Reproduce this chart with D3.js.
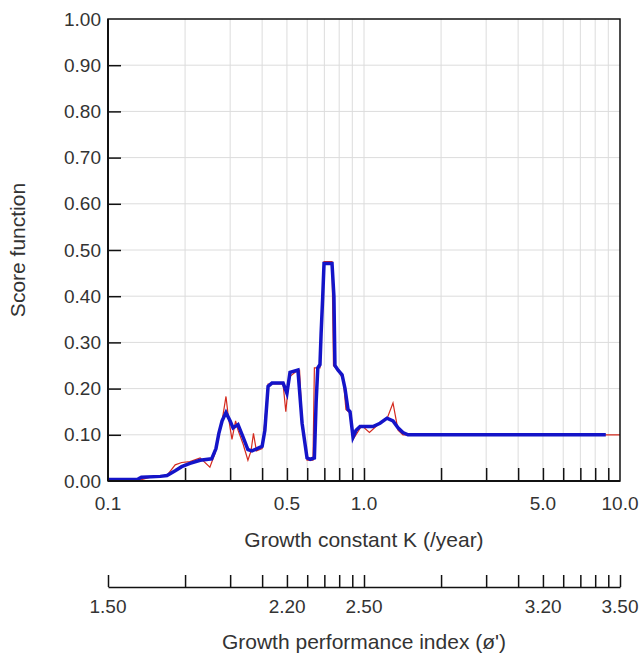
<!DOCTYPE html>
<html>
<head>
<meta charset="utf-8">
<script src="https://cdn.jsdelivr.net/npm/d3@7"></script>
<style>
  body { margin: 0; background: #fff; }
  svg text { font-family: "Liberation Sans", Arial, sans-serif; fill: #333; }
</style>
</head>
<body>
<div id="chart"></div>
<script>
// growth constant K values and score, thick blue (smoothed) series
var blueK = [0.100, 0.131, 0.135, 0.160, 0.170, 0.183, 0.194, 0.209, 0.229, 0.254, 0.264, 0.271, 0.279, 0.289,
  0.300, 0.308, 0.322, 0.337, 0.352, 0.365, 0.386, 0.400, 0.410, 0.422, 0.437, 0.483, 0.500, 0.514, 0.552,
  0.573, 0.599, 0.616, 0.640, 0.650, 0.660, 0.673, 0.680, 0.690, 0.698, 0.750, 0.763, 0.770, 0.792, 0.821,
  0.843, 0.866, 0.882, 0.906, 0.931, 0.965, 1.018, 1.084, 1.155, 1.230, 1.298, 1.358, 1.420, 1.485, 8.8];
var blueScore = [0.003, 0.004, 0.008, 0.010, 0.012, 0.022, 0.031, 0.038, 0.045, 0.048, 0.070, 0.103, 0.130, 0.148,
  0.130, 0.115, 0.122, 0.095, 0.068, 0.065, 0.071, 0.075, 0.110, 0.205, 0.212, 0.212, 0.190, 0.235, 0.240,
  0.125, 0.050, 0.047, 0.050, 0.170, 0.245, 0.252, 0.320, 0.400, 0.471, 0.471, 0.400, 0.250, 0.240, 0.230,
  0.200, 0.155, 0.150, 0.095, 0.110, 0.118, 0.118, 0.118, 0.125, 0.136, 0.130, 0.115, 0.105, 0.100, 0.100];

// thin red (raw) series
var redK = [0.100, 0.135, 0.150, 0.170, 0.183, 0.194, 0.209, 0.229, 0.250, 0.262, 0.279, 0.289, 0.295, 0.305,
  0.315, 0.322, 0.337, 0.352, 0.362, 0.370, 0.380, 0.400, 0.410, 0.422, 0.483, 0.495, 0.510, 0.552, 0.560,
  0.573, 0.599, 0.632, 0.640, 0.673, 0.680, 0.690, 0.698, 0.750, 0.760, 0.800, 0.830, 0.850, 0.890, 0.906,
  0.931, 0.980, 1.050, 1.150, 1.230, 1.298, 1.358, 1.420, 10.0];
var redScore = [0.002, 0.003, 0.010, 0.012, 0.035, 0.040, 0.042, 0.050, 0.030, 0.060, 0.130, 0.183, 0.140, 0.090,
  0.130, 0.110, 0.080, 0.045, 0.065, 0.103, 0.065, 0.070, 0.130, 0.210, 0.210, 0.150, 0.225, 0.240, 0.240,
  0.130, 0.045, 0.045, 0.245, 0.245, 0.320, 0.400, 0.475, 0.475, 0.250, 0.235, 0.220, 0.155, 0.145, 0.090,
  0.100, 0.120, 0.105, 0.125, 0.135, 0.169, 0.110, 0.100, 0.100];

var kTicks = [0.1, 0.2, 0.3, 0.4, 0.5, 0.6, 0.7, 0.8, 0.9, 1, 2, 3, 4, 5, 6, 7, 8, 9, 10];
var kLabels = [0.1, 0.5, 1, 5, 10];
var phiLabels = [1.5, 2.2, 2.5, 3.2, 3.5];
var scoreTicks = [0, 0.1, 0.2, 0.3, 0.4, 0.5, 0.6, 0.7, 0.8, 0.9, 1.0];

var W = 644, H = 657;
var mLeft = 108, mRight = 620, mTop = 19, mBottom = 481;

var svg = d3.select("#chart").append("svg")
  .attr("width", W)
  .attr("height", H);

var x = d3.scaleLog().domain([0.1, 10]).range([mLeft, mRight]);
var y = d3.scaleLinear().domain([0, 1]).range([mBottom, mTop]);
var phi = d3.scaleLinear().domain([1.5, 3.5]).range([mLeft, mRight]);

// grid
svg.append("g").selectAll("line")
  .data(scoreTicks.slice(1, -1))
.enter().append("line")
  .attr("x1", mLeft).attr("x2", mRight)
  .attr("y1", function(d) { return y(d); })
  .attr("y2", function(d) { return y(d); })
  .attr("stroke", "#dcdcdc");

svg.append("g").selectAll("line")
  .data(kTicks.slice(1, -1))
.enter().append("line")
  .attr("y1", mTop).attr("y2", mBottom)
  .attr("x1", function(d) { return x(d); })
  .attr("x2", function(d) { return x(d); })
  .attr("stroke", "#dcdcdc");

// lines
var line = d3.line()
  .x(function(d) { return x(d[0]); })
  .y(function(d) { return y(d[1]); });

svg.append("path")
  .datum(d3.zip(redK, redScore))
  .attr("d", line)
  .attr("fill", "none")
  .attr("stroke", "#d42a1e")
  .attr("stroke-width", 1.2);

svg.append("path")
  .datum(d3.zip(blueK, blueScore))
  .attr("d", line)
  .attr("fill", "none")
  .attr("stroke", "#1414c8")
  .attr("stroke-width", 3.5);

// frame
svg.append("rect")
  .attr("x", mLeft).attr("y", mTop)
  .attr("width", mRight - mLeft).attr("height", mBottom - mTop)
  .attr("fill", "none")
  .attr("stroke", "#111")
  .attr("stroke-width", 1.5);
svg.append("line")
  .attr("x1", mLeft).attr("x2", mLeft).attr("y1", mTop).attr("y2", mBottom)
  .attr("stroke", "#111").attr("stroke-width", 2);
svg.append("line")
  .attr("x1", mLeft).attr("x2", mRight).attr("y1", mBottom).attr("y2", mBottom)
  .attr("stroke", "#111").attr("stroke-width", 2);

// y axis: inward ticks and labels
var yAxis = d3.axisRight(y)
  .tickValues(scoreTicks.slice(1, -1))
  .tickSize(13)
  .tickFormat("");
svg.append("g")
  .attr("transform", "translate(" + mLeft + ",0)")
  .call(yAxis)
  .call(function(g) { g.select(".domain").remove(); })
  .selectAll("line").attr("stroke", "#111").attr("stroke-width", 1.5);

svg.append("g").selectAll("text")
  .data(scoreTicks)
.enter().append("text")
  .attr("x", mLeft - 7)
  .attr("y", function(d) { return y(d); })
  .attr("dy", "0.35em")
  .attr("text-anchor", "end")
  .style("font-size", "19px")
  .text(function(d) { return d3.format(".2f")(d); });

// x axis (K): inward ticks
var xAxis = d3.axisTop(x)
  .tickValues(kTicks.slice(1, -1))
  .tickSize(13)
  .tickFormat("");
svg.append("g")
  .attr("transform", "translate(0," + mBottom + ")")
  .call(xAxis)
  .call(function(g) { g.select(".domain").remove(); })
  .selectAll("line").attr("stroke", "#111").attr("stroke-width", 1.5);

svg.append("g").selectAll("text")
  .data(kLabels)
.enter().append("text")
  .attr("x", function(d) { return x(d); })
  .attr("y", 510)
  .attr("text-anchor", "middle")
  .style("font-size", "19px")
  .text(function(d) { return d3.format(".1f")(d); });

svg.append("text")
  .attr("x", (mLeft + mRight) / 2)
  .attr("y", 547)
  .attr("text-anchor", "middle")
  .style("font-size", "21px")
  .text("Growth constant K (/year)");

// second axis: growth performance index
var axisY = 587;
var phiAxis = d3.axisTop(phi)
  .tickValues(kTicks.map(function(k) { return 2.5 + Math.log10(k); }))
  .tickSize(12)
  .tickSizeOuter(0)
  .tickFormat("");
svg.append("g")
  .attr("transform", "translate(0," + axisY + ")")
  .call(phiAxis)
  .call(function(g) {
    g.selectAll("line, path").attr("stroke", "#111").attr("stroke-width", 1.5);
  });

svg.append("g").selectAll("text")
  .data(phiLabels)
.enter().append("text")
  .attr("x", function(d) { return phi(d); })
  .attr("y", 613)
  .attr("text-anchor", "middle")
  .style("font-size", "19px")
  .text(function(d) { return d3.format(".2f")(d); });

svg.append("text")
  .attr("x", (mLeft + mRight) / 2)
  .attr("y", 649)
  .attr("text-anchor", "middle")
  .style("font-size", "21px")
  .text("Growth performance index (ø')");

svg.append("text")
  .attr("transform", "translate(18," + ((mTop + mBottom) / 2) + ") rotate(-90)")
  .attr("dy", "0.35em")
  .attr("text-anchor", "middle")
  .style("font-size", "21px")
  .text("Score function");
</script>
</body>
</html>
